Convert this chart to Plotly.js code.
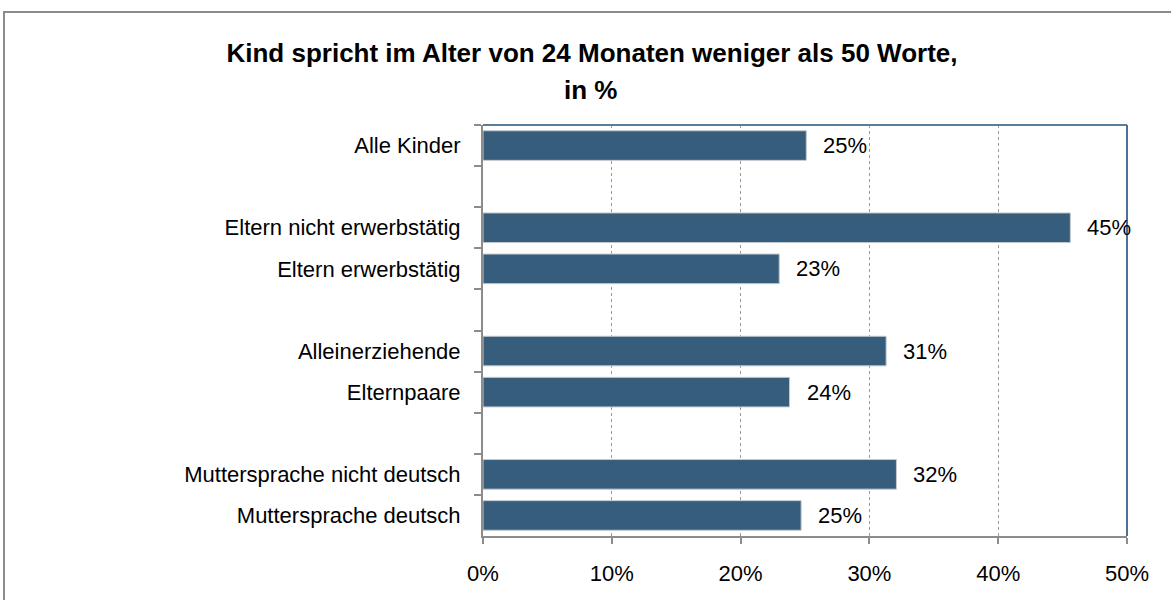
<!DOCTYPE html>
<html>
<head>
<meta charset="utf-8">
<script src="https://cdn.plot.ly/plotly-3.0.1.min.js"></script>
<style>
  html, body { margin: 0; padding: 0; background: #ffffff; }
  #wrap { position: relative; width: 1171px; height: 600px; overflow: hidden; }
  #frame { position: absolute; left: 3px; top: 11px; width: 1300px; height: 700px;
           border-left: 2px solid #8c8c8c; border-top: 2px solid #8c8c8c; pointer-events: none; }
  #chart { position: absolute; left: 0; top: 0; width: 1171px; height: 600px; }
</style>
</head>
<body>
<div id="wrap">
  <div id="chart"></div>
  <div id="frame"></div>
</div>
<script>
// Data (top to bottom)
const categories = [
  "Alle Kinder",
  "Eltern nicht erwerbstätig",
  "Eltern erwerbstätig",
  "Alleinerziehende",
  "Elternpaare",
  "Muttersprache nicht deutsch",
  "Muttersprache deutsch"
];
const values = [25.1, 45.6, 23.0, 31.3, 23.8, 32.1, 24.7];
const valueLabels = ["25%", "45%", "23%", "31%", "24%", "32%", "25%"];
// axis order including empty separator rows
const axisOrder = [
  "Alle Kinder", " ",
  "Eltern nicht erwerbstätig", "Eltern erwerbstätig", "  ",
  "Alleinerziehende", "Elternpaare", "   ",
  "Muttersprache nicht deutsch", "Muttersprache deutsch"
];
const xTickVals = [0, 10, 20, 30, 40, 50];
const xTickText = ["0%", "10%", "20%", "30%", "40%", "50%"];

const FONT = '"Liberation Sans", Arial, sans-serif';
const FS = 22;
const TFS = 26;

const trace = {
  type: 'bar',
  orientation: 'h',
  x: values,
  y: categories,
  marker: { color: '#375d7d', line: { color: '#c4c9cf', width: 1 } },
  hoverinfo: 'skip'
};

const annotations = categories.map((c, i) => ({
  x: values[i], y: c, xref: 'x', yref: 'y',
  text: valueLabels[i], showarrow: false,
  xanchor: 'left', yanchor: 'middle', xshift: 15,
  font: { family: FONT, size: FS, color: '#000000' }
}));

annotations.push({
  xref: 'paper', yref: 'paper', x: (590 - 483) / 644, y: (536 - 90) / 411,
  text: '<b>in %</b>', showarrow: false, xanchor: 'center', yanchor: 'middle',
  font: { family: FONT, size: TFS, color: '#000000' }
});

const layout = {
  width: 1171, height: 600,
  margin: { l: 483, r: 44, t: 125, b: 64, pad: 0 },
  paper_bgcolor: 'rgba(0,0,0,0)',
  plot_bgcolor: 'rgba(0,0,0,0)',
  showlegend: false,
  bargap: 0.28,
  font: { family: FONT, size: FS, color: '#000000' },
  title: {
    text: '<b>Kind spricht im Alter von 24 Monaten weniger als 50 Worte,</b>',
    x: 592 / 1171, xanchor: 'center', xref: 'container',
    y: 1 - 53 / 600, yanchor: 'middle', yref: 'container',
    font: { family: FONT, size: TFS, color: '#000000' }
  },
  xaxis: {
    range: [0, 50],
    tickmode: 'array',
    tickvals: xTickVals,
    ticktext: xTickText,
    ticks: 'outside', ticklen: 6, tickwidth: 2, tickcolor: '#8c8c8c',
    showline: true, linecolor: '#8c8c8c', linewidth: 2,
    showgrid: true, gridcolor: '#9a9a9a', griddash: 'dot', gridwidth: 1,
    zeroline: false,
    ticklabelstandoff: 11,
    tickfont: { family: FONT, size: FS, color: '#000000' },
    fixedrange: true
  },
  yaxis: {
    type: 'category',
    categoryorder: 'array',
    categoryarray: axisOrder,
    range: [axisOrder.length - 0.5, -0.5],
    tickson: 'boundaries',
    ticks: 'outside', ticklen: 7, tickwidth: 2, tickcolor: '#8c8c8c',
    showline: true, linecolor: '#8c8c8c', linewidth: 2,
    showgrid: false, zeroline: false,
    ticklabelstandoff: 16,
    tickfont: { family: FONT, size: FS, color: '#000000' },
    fixedrange: true
  },
  shapes: [
    { type: 'line', xref: 'paper', yref: 'paper', x0: 0, x1: 1, y0: 1, y1: 1,
      line: { color: '#5a7d9c', width: 2 }, layer: 'above' },
    { type: 'line', xref: 'paper', yref: 'paper', x0: 1, x1: 1, y0: 0, y1: 1,
      line: { color: '#4a7096', width: 2 }, layer: 'above' }
  ],
  annotations: annotations
};

Plotly.newPlot('chart', [trace], layout, { displayModeBar: false, staticPlot: true });
</script>
</body>
</html>
